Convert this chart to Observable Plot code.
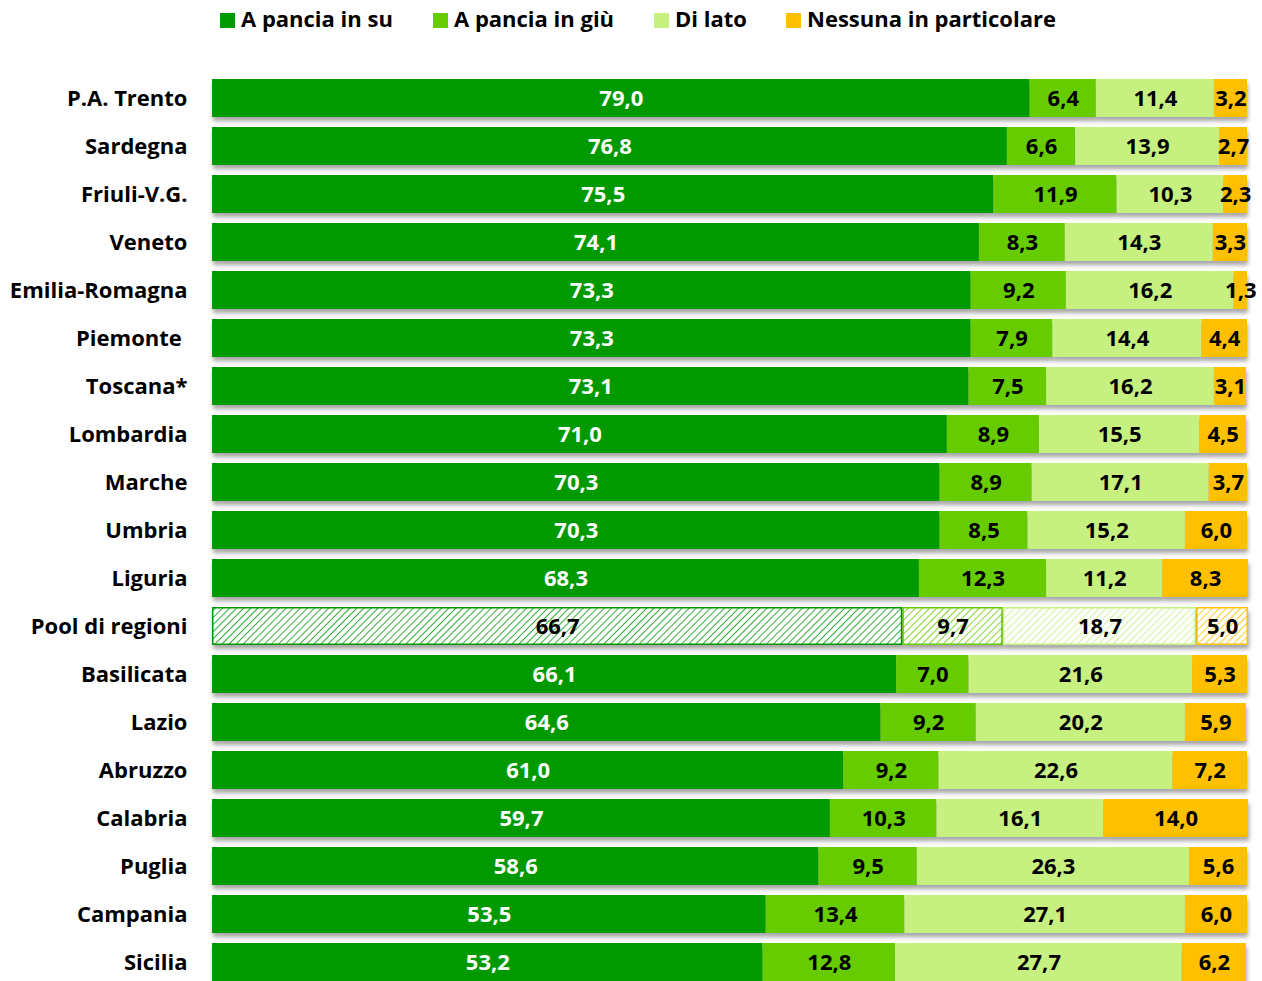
<!DOCTYPE html>
<html>
<head>
<meta charset="utf-8">
<script src="https://cdn.jsdelivr.net/npm/d3@7"></script>
<script src="https://cdn.jsdelivr.net/npm/@observablehq/plot@0.6"></script>
<style>
  html, body { margin: 0; padding: 0; background: #fff; }
  body { width: 1262px; height: 981px; overflow: hidden; font-family: "Open Sans", "DejaVu Sans", sans-serif; }
  #legend { position: relative; height: 38px; }
  .li { position: absolute; top: 4px; font-size: 22px; font-weight: bold; color: #000; line-height: 28px; white-space: nowrap; }
  .sw { display: inline-block; width: 15px; height: 15px; margin-right: 6px; vertical-align: -1px; }
  svg { display: block; }
</style>
</head>
<body>
<svg width="0" height="0" style="position:absolute">
  <defs id="pdefs"></defs>
</svg>
<div id="legend"></div>
<div id="chart"></div>
<script>
const regions = ["P.A. Trento","Sardegna","Friuli-V.G.","Veneto","Emilia-Romagna","Piemonte\u00a0","Toscana*","Lombardia","Marche","Umbria","Liguria","Pool di regioni","Basilicata","Lazio","Abruzzo","Calabria","Puglia","Campania","Sicilia"];
const series = ["A pancia in su","A pancia in giù","Di lato","Nessuna in particolare"];
const supine = [79.0,76.8,75.5,74.1,73.3,73.3,73.1,71.0,70.3,70.3,68.3,66.7,66.1,64.6,61.0,59.7,58.6,53.5,53.2];
const prone  = [6.4,6.6,11.9,8.3,9.2,7.9,7.5,8.9,8.9,8.5,12.3,9.7,7.0,9.2,9.2,10.3,9.5,13.4,12.8];
const side   = [11.4,13.9,10.3,14.3,16.2,14.4,16.2,15.5,17.1,15.2,11.2,18.7,21.6,20.2,22.6,16.1,26.3,27.1,27.7];
const none   = [3.2,2.7,2.3,3.3,1.3,4.4,3.1,4.5,3.7,6.0,8.3,5.0,5.3,5.9,7.2,14.0,5.6,6.0,6.2];
const colors = ["#009900","#66cc00","#c6f080","#ffc000"];
const poolName = "Pool di regioni";

const values = [supine, prone, side, none];
const rows = [];
regions.forEach((r, i) => {
  let acc = 0;
  series.forEach((s, j) => {
    const v = values[j][i];
    rows.push({region: r, series: s, si: j, value: v, x1: acc, x2: acc + v, xm: acc + v / 2, pool: r === poolName});
    acc += v;
  });
});

// hatch patterns
const defs = d3.select("#pdefs");
colors.forEach((c, j) => {
  const p = defs.append("pattern").attr("id", "hatch" + j)
    .attr("patternUnits", "userSpaceOnUse").attr("width", 5).attr("height", 5)
    .attr("patternTransform", "rotate(45)");
  p.append("rect").attr("width", 5).attr("height", 5).attr("fill", "#fff");
  p.append("line").attr("x1", 0).attr("y1", 0).attr("x2", 0).attr("y2", 5)
    .attr("stroke", c).attr("stroke-width", 1.6);
});

// legend
const legendPos = [220, 433, 654, 786];
const lg = d3.select("#legend");
series.forEach((s, j) => {
  const it = lg.append("div").attr("class", "li").style("left", legendPos[j] + "px");
  it.append("span").attr("class", "sw").style("background", colors[j]);
  it.append("span").text(s);
});

const fmt = v => v.toFixed(1).replace(".", ",");
const normal = rows.filter(d => !d.pool);
const pool = rows.filter(d => d.pool);

const plot = Plot.plot({
  width: 1262,
  height: 943,
  marginLeft: 212,
  marginRight: 15,
  marginTop: 0,
  marginBottom: 0,
  style: {fontFamily: "'Open Sans', 'DejaVu Sans', sans-serif", fontSize: "22px", fontWeight: "bold", background: "#fff"},
  x: {domain: [0, 100], axis: null},
  y: {domain: regions, range: [30, 953.5], padding: 0.2, label: null},
  color: {domain: series, range: colors},
  marks: [
    Plot.barX(normal, {y: "region", x1: "x1", x2: "x2", fill: "series"}),
    ...series.map((s, j) => Plot.barX(pool.filter(d => d.si === j), {
      y: "region", x1: "x1", x2: "x2", fill: `url(#hatch${j})`, stroke: colors[j], strokeWidth: 1.5, inset: 0.75
    })),
    Plot.text(rows, {
      y: "region", x: "xm", text: d => fmt(d.value),
      fill: d => (d.si === 0 && !d.pool) ? "white" : "black",
      fontSize: 22, fontWeight: "bold"
    }),
    Plot.axisY({tickSize: 0, tickPadding: 25, fontSize: 22, fontWeight: "bold", label: null})
  ]
});

d3.select(plot).selectAll("g[aria-label='bar']")
  .style("filter", "drop-shadow(1px 4px 2px rgba(0,0,0,0.35))");
document.getElementById("chart").appendChild(plot);
</script>
</body>
</html>
